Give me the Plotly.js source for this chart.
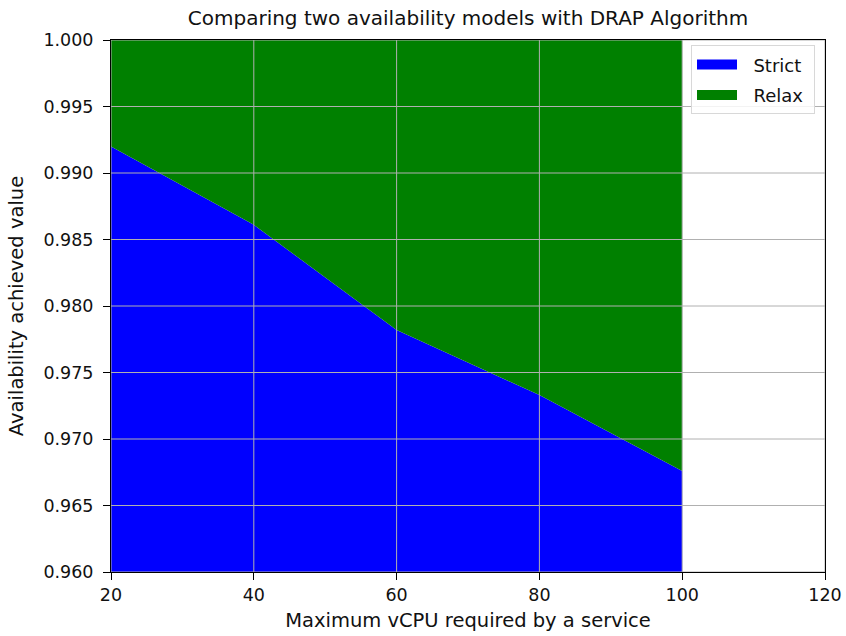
<!DOCTYPE html>
<html>
<head>
<meta charset="utf-8">
<script src="https://cdn.plot.ly/plotly-3.0.1.min.js"></script>
<style>html,body{margin:0;padding:0;background:#fff;}#chart{width:846px;height:636px;}</style>
</head>
<body>
<div id="chart"></div>
<script>
const vcpu = [20, 40, 60, 80, 100];
const strictValues = [0.9920, 0.9861, 0.9782, 0.9733, 0.9676];
const relaxValues = [1.0, 1.0, 1.0, 1.0, 1.0];
const seriesNames = ['Strict', 'Relax'];
const seriesColors = ['#0000ff', '#008000'];
const xTicks = [20, 40, 60, 80, 100, 120];
const yTicks = [0.960, 0.965, 0.970, 0.975, 0.980, 0.985, 0.990, 0.995, 1.000];

const FONT = 'DejaVu Sans, sans-serif';
const PAD = '\u00a0\u00a0';

const traces = [
  {x: vcpu, y: strictValues, name: seriesNames[0], type: 'scatter', mode: 'lines', showlegend: false,
   line: {width: 0, color: seriesColors[0]}, fill: 'tozeroy', fillcolor: seriesColors[0]},
  {x: vcpu, y: relaxValues, name: seriesNames[1], type: 'scatter', mode: 'lines', showlegend: false,
   line: {width: 0, color: seriesColors[1]}, fill: 'tonexty', fillcolor: seriesColors[1]},
  // legend entries (patches)
  {x: [null], y: [null], name: PAD + seriesNames[0] + '\u00a0', type: 'scatter', mode: 'lines', legendgroup: 'a',
   line: {width: 13, color: seriesColors[0]}},
  {x: [null], y: [null], name: PAD + seriesNames[1] + '\u00a0', type: 'scatter', mode: 'lines', legendgroup: 'b',
   line: {width: 13, color: seriesColors[1]}}
];

const gridColor = '#b0b0b0';
const shapes = [];
xTicks.forEach(v => shapes.push({type: 'line', layer: 'above', xref: 'x', yref: 'paper',
  x0: v, x1: v, y0: 0, y1: 1, line: {color: gridColor, width: 1}}));
yTicks.forEach(v => shapes.push({type: 'line', layer: 'above', xref: 'paper', yref: 'y',
  x0: 0, x1: 1, y0: v, y1: v, line: {color: gridColor, width: 1}}));

const layout = {
  width: 846, height: 636,
  margin: {l: 111, r: 21, t: 40, b: 64},
  paper_bgcolor: '#fff', plot_bgcolor: '#fff',
  font: {family: FONT, size: 17.5, color: '#111'},
  title: {text: 'Comparing two availability models with DRAP Algorithm',
          font: {family: FONT, size: 20, color: '#111'}, xref: 'paper', x: 0.5, xanchor: 'center',
          yref: 'container', y: 0.971, yanchor: 'middle'},
  xaxis: {range: [20, 120], tickvals: xTicks, ticktext: xTicks.map(String),
          showgrid: false, zeroline: false, showline: true, mirror: true, linecolor: '#000', linewidth: 1,
          ticks: 'outside', ticklen: 7, tickcolor: '#000', tickfont: {size: 17.5},
          title: {text: 'Maximum vCPU required by a service', font: {size: 19.5}, standoff: 9}},
  yaxis: {range: [0.96, 1.0], tickvals: yTicks, ticktext: yTicks.map(v => v.toFixed(3)),
          showgrid: false, zeroline: false, showline: true, mirror: true, linecolor: '#000', linewidth: 1,
          ticks: 'outside', ticklen: 7, tickcolor: '#000', tickfont: {size: 17.5}, ticklabelstandoff: 6,
          title: {text: 'Availability achieved value', font: {size: 19.5}, standoff: 14}},
  shapes: shapes,
  legend: {x: 0.986, y: 0.99, xanchor: 'right', yanchor: 'top', bgcolor: 'rgba(255,255,255,0.85)',
           bordercolor: '#d8d8d8', borderwidth: 1, font: {size: 18}, itemwidth: 40,
           traceorder: 'grouped', tracegroupgap: 4},
  showlegend: true
};

Plotly.newPlot('chart', traces, layout, {displayModeBar: false, staticPlot: true});
</script>
</body>
</html>
